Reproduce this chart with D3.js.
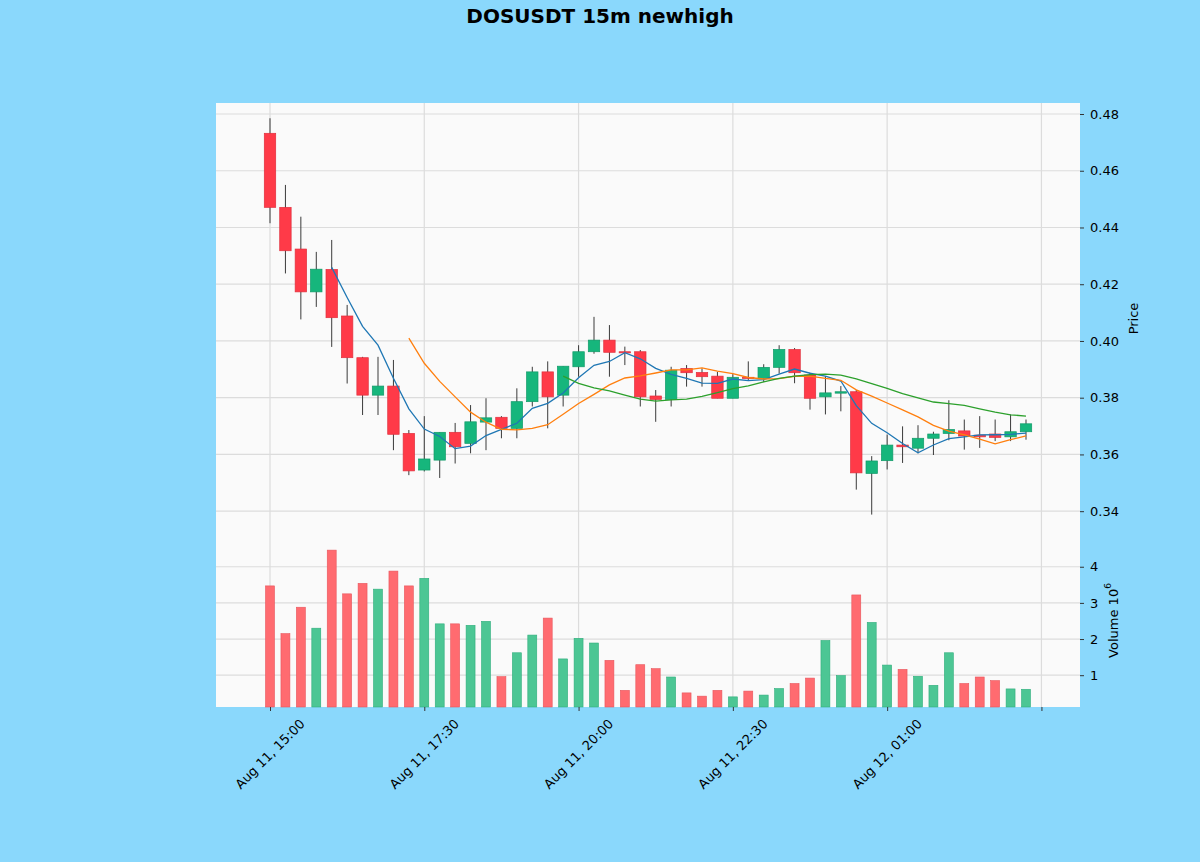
<!DOCTYPE html>
<html>
<head>
<meta charset="utf-8">
<script src="https://cdn.jsdelivr.net/npm/d3@7"></script>
<style>
  body { margin: 0; background: #8ad8fc; }
  text { font-family: "DejaVu Sans", sans-serif; fill: #000; }
</style>
</head>
<body>
<div class="main-container"></div>
<script>
// 15m candles, Aug 11 15:00 -> Aug 12 03:15
var opens  = [0.4732, 0.4471, 0.4324, 0.4173, 0.4252, 0.4088, 0.3941, 0.3809, 0.3841, 0.3674,
              0.3545, 0.3580, 0.3678, 0.3639, 0.3714, 0.3731, 0.3692, 0.3786, 0.3891, 0.3809,
              0.3909, 0.3962, 0.4003, 0.3962, 0.3962, 0.3806, 0.3794, 0.3903, 0.3889, 0.3876,
              0.3798, 0.3872, 0.3868, 0.3907, 0.3970, 0.3880, 0.3803, 0.3816, 0.3821, 0.3533,
              0.3578, 0.3633, 0.3622, 0.3657, 0.3674, 0.3683, 0.3668, 0.3672, 0.3662, 0.3680];
var highs  = [0.4785, 0.4550, 0.4438, 0.4314, 0.4356, 0.4127, 0.3944, 0.3944, 0.3933, 0.3686,
              0.3735, 0.3678, 0.3711, 0.3774, 0.3798, 0.3735, 0.3833, 0.3909, 0.3928, 0.3911,
              0.3985, 0.4085, 0.4056, 0.3980, 0.3968, 0.3827, 0.3909, 0.3915, 0.3903, 0.3891,
              0.3883, 0.3928, 0.3918, 0.3985, 0.3975, 0.3888, 0.3876, 0.3841, 0.3827, 0.3594,
              0.3670, 0.3699, 0.3703, 0.3680, 0.3791, 0.3723, 0.3735, 0.3723, 0.3741, 0.3723];
var lows   = [0.4415, 0.4238, 0.4076, 0.4120, 0.3979, 0.3850, 0.3739, 0.3739, 0.3615, 0.3527,
              0.3540, 0.3517, 0.3568, 0.3604, 0.3615, 0.3657, 0.3657, 0.3769, 0.3692, 0.3769,
              0.3874, 0.3955, 0.3874, 0.3915, 0.3769, 0.3715, 0.3769, 0.3839, 0.3839, 0.3798,
              0.3798, 0.3862, 0.3855, 0.3885, 0.3851, 0.3758, 0.3741, 0.3752, 0.3476, 0.3388,
              0.3547, 0.3570, 0.3604, 0.3598, 0.3650, 0.3617, 0.3623, 0.3647, 0.3647, 0.3652];
var closes = [0.4471, 0.4318, 0.4173, 0.4253, 0.4082, 0.3941, 0.3809, 0.3841, 0.3671, 0.3542,
              0.3584, 0.3678, 0.3627, 0.3715, 0.3729, 0.3692, 0.3786, 0.3891, 0.3803, 0.3911,
              0.3962, 0.4003, 0.3960, 0.3958, 0.3803, 0.3794, 0.3897, 0.3888, 0.3874, 0.3798,
              0.3872, 0.3868, 0.3907, 0.3970, 0.3888, 0.3798, 0.3817, 0.3821, 0.3535, 0.3577,
              0.3633, 0.3627, 0.3657, 0.3672, 0.3688, 0.3665, 0.3662, 0.3660, 0.3680, 0.3708];
// volume in millions
var volumes = [3.47, 2.15, 2.88, 2.30, 4.46, 3.25, 3.54, 3.38, 3.88, 3.47,
               3.68, 2.42, 2.42, 2.38, 2.49, 0.96, 1.62, 2.11, 2.58, 1.45,
               2.02, 1.89, 1.41, 0.58, 1.29, 1.18, 0.95, 0.51, 0.42, 0.58,
               0.40, 0.56, 0.45, 0.63, 0.77, 0.92, 1.96, 0.99, 3.22, 2.46,
               1.28, 1.16, 0.97, 0.72, 1.62, 0.77, 0.95, 0.85, 0.62, 0.61];
var mavPeriods = [5, 10, 20];
var mavColors = ["#1f77b4", "#ff7f0e", "#2ca02c"];
var tickIdx = [0, 10, 20, 30, 40, 50];
var tickLabels = ["Aug 11, 15:00", "Aug 11, 17:30", "Aug 11, 20:00", "Aug 11, 22:30", "Aug 12, 01:00", ""];
var priceTicks = [0.34, 0.36, 0.38, 0.40, 0.42, 0.44, 0.46, 0.48];
var volTicks = [1, 2, 3, 4];

var upColor = "#16b67c", downColor = "#ff3a48";
var upVol = "#4cc694", downVol = "#ff6b70";

var W = 1200, H = 862;
var left = 216, right = 1080, pTop = 103, pBot = 534, vBot = 707;

var svg = d3.select(".main-container")
    .append("svg")
    .attr("width", W)
    .attr("height", H);

svg.append("rect").attr("width", W).attr("height", H).attr("fill", "#8ad8fc");

var n = closes.length;
var x = d3.scaleLinear().domain([-3.5, n + 2.5]).range([left, right]);
var lo = d3.min(lows), hi = d3.max(highs), dl = hi - lo;
var y = d3.scaleLinear().domain([lo - dl * 0.049, hi + dl * 0.0385]).range([pBot, pTop]);
var yv = d3.scaleLinear().domain([d3.min(volumes) * 0.3, d3.max(volumes) * 1.1]).range([vBot, pBot]);
var step = x(1) - x(0);

// axes faces
svg.append("rect").attr("x", left).attr("y", pTop).attr("width", right - left).attr("height", vBot - pTop)
    .attr("fill", "#fafafa");

var grid = svg.append("g").attr("stroke", "#dcdcdc").attr("stroke-width", 1.2);
grid.selectAll("line.gx").data(tickIdx).enter().append("line")
    .attr("x1", function (d) { return x(d); }).attr("x2", function (d) { return x(d); })
    .attr("y1", pTop).attr("y2", vBot);
grid.selectAll("line.gy").data(priceTicks).enter().append("line")
    .attr("x1", left).attr("x2", right)
    .attr("y1", function (d) { return y(d); }).attr("y2", function (d) { return y(d); });
grid.selectAll("line.gv").data(volTicks).enter().append("line")
    .attr("x1", left).attr("x2", right)
    .attr("y1", function (d) { return yv(d); }).attr("y2", function (d) { return yv(d); });

var idx = d3.range(n);
function isUp(i) { return closes[i] >= opens[i]; }

// volume bars
var vw = step * 0.58;
svg.append("g").selectAll("rect").data(idx).enter().append("rect")
    .attr("x", function (i) { return x(i) - vw / 2; })
    .attr("width", vw)
    .attr("y", function (i) { return yv(volumes[i]); })
    .attr("height", function (i) { return vBot - yv(volumes[i]); })
    .attr("fill", function (i) { return isUp(i) ? upVol : downVol; })
    .attr("stroke", function (i) { return isUp(i) ? "#2fae7c" : "#e8555c"; })
    .attr("stroke-width", 0.6);

// wicks
svg.append("g").selectAll("line").data(idx).enter().append("line")
    .attr("x1", function (i) { return x(i); }).attr("x2", function (i) { return x(i); })
    .attr("y1", function (i) { return y(highs[i]); })
    .attr("y2", function (i) { return y(lows[i]); })
    .attr("stroke", "#3a3a3a").attr("stroke-width", 1);

// bodies
var bw = step * 0.74;
svg.append("g").selectAll("rect").data(idx).enter().append("rect")
    .attr("x", function (i) { return x(i) - bw / 2; })
    .attr("width", bw)
    .attr("y", function (i) { return y(Math.max(opens[i], closes[i])); })
    .attr("height", function (i) { return Math.max(1, Math.abs(y(opens[i]) - y(closes[i]))); })
    .attr("fill", function (i) { return isUp(i) ? upColor : downColor; })
    .attr("stroke", function (i) { return isUp(i) ? "#119a68" : "#e0303d"; })
    .attr("stroke-width", 0.7);

// moving averages of close
mavPeriods.forEach(function (p, k) {
    var pts = [];
    for (var i = p - 1; i < n; i++) {
        pts.push([i, d3.mean(closes.slice(i - p + 1, i + 1))]);
    }
    svg.append("path")
        .datum(pts)
        .attr("fill", "none")
        .attr("stroke", mavColors[k])
        .attr("stroke-width", 1.3)
        .attr("d", d3.line().x(function (d) { return x(d[0]); }).y(function (d) { return y(d[1]); }));
});

// right axes
var pAxis = svg.append("g").attr("transform", "translate(" + right + ",0)")
    .call(d3.axisRight(y).tickValues(priceTicks).tickFormat(d3.format(".2f")).tickSize(4).tickPadding(6));
var vAxis = svg.append("g").attr("transform", "translate(" + right + ",0)")
    .call(d3.axisRight(yv).tickValues(volTicks).tickFormat(d3.format("d")).tickSize(4).tickPadding(6));
[pAxis, vAxis].forEach(function (a) {
    a.select(".domain").remove();
    a.selectAll("text").attr("font-size", 13).attr("font-family", "DejaVu Sans").attr("fill", "#000");
    a.selectAll("line").attr("stroke", "#333");
});

// bottom ticks
var xAxis = svg.append("g").attr("transform", "translate(0," + vBot + ")")
    .call(d3.axisBottom(x).tickValues(tickIdx).tickFormat("").tickSize(4));
xAxis.select(".domain").remove();
xAxis.selectAll("line").attr("stroke", "#333");

svg.append("g").selectAll("text").data(tickIdx).enter().append("text")
    .attr("transform", function (d) { return "translate(" + x(d) + ",754) rotate(-45)"; })
    .attr("text-anchor", "middle")
    .attr("dominant-baseline", "central")
    .attr("font-size", 13)
    .text(function (d, i) { return tickLabels[i]; });

// labels
svg.append("text")
    .attr("transform", "translate(1133," + ((pTop + pBot) / 2) + ") rotate(-90)")
    .attr("text-anchor", "middle").attr("dominant-baseline", "central")
    .attr("font-size", 13).text("Price");

var vl = svg.append("text")
    .attr("transform", "translate(1113," + ((pBot + vBot) / 2) + ") rotate(-90)")
    .attr("text-anchor", "middle").attr("dominant-baseline", "central")
    .attr("font-size", 13);
vl.append("tspan").text("Volume  10");
vl.append("tspan").attr("dy", -5).attr("font-size", 9).text("6");

svg.append("text")
    .attr("x", 600).attr("y", 23)
    .attr("text-anchor", "middle")
    .attr("font-size", 20).attr("font-weight", "bold")
    .text("DOSUSDT 15m newhigh");
</script>
</body>
</html>
